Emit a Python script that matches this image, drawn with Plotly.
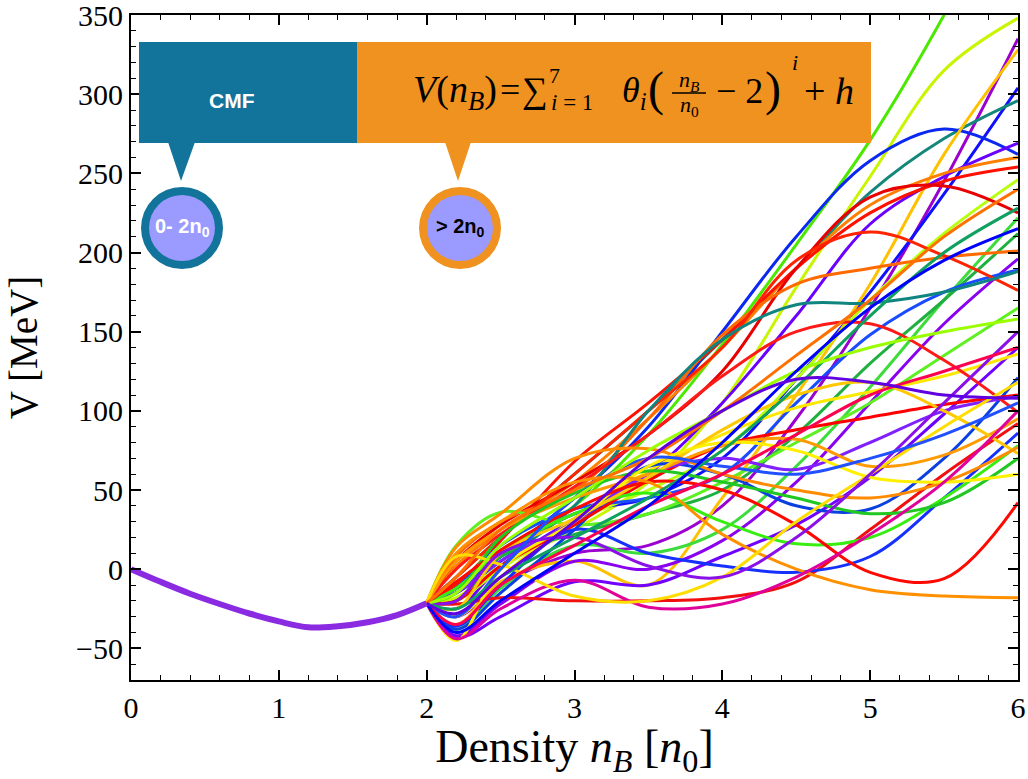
import plotly.graph_objects as go

# ---- CMF potential below 2 n0 ----
cmf_density = [0.0, 0.2, 0.4, 0.6, 0.8, 1.0, 1.2, 1.4, 1.6, 1.8, 2.0]
cmf_potential = [0.0, -8.0, -15.5, -22.0, -28.0, -33.0, -36.7, -36.0, -33.5, -29.0, -21.5]

# ---- sampled polynomial extensions above 2 n0 (V in MeV) ----
density_grid = [2.0, 2.2, 2.5, 3.0, 3.5, 4.0, 4.5, 5.0, 5.5, 6.0]

v01 = [-21.5, -10, 12, 40, 85, 142, 205, 271, 350, 440]
v02 = [-21.5, -18, 2, 25, 55, 105, 178, 248, 315, 348]
v03 = [-21.5, -30, -10, 10, 15, 40, 95, 165, 245, 335]
v04 = [-21.5, -12, 8, 35, 45, 70, 120, 175, 237, 304]
v05 = [-21.5, -5, 20, 60, 100, 145, 190, 238, 272, 296]
v06 = [-21.5, -15, 8, 45, 90, 150, 210, 258, 278, 262]
v07 = [-21.5, -35, -8, 5, -10, 45, 110, 180, 262, 328]
v08 = [-21.5, -25, 2, 32, 60, 105, 160, 218, 248, 269]
v09 = [-21.5, 2, 25, 55, 95, 140, 190, 230, 250, 260]
v10 = [-21.5, -10, 18, 68, 105, 145, 190, 225, 245, 254]
v11 = [-21.5, -20, 0, 30, 50, 75, 120, 170, 212, 246]
v12 = [-21.5, 5, 28, 55, 85, 125, 190, 235, 242, 225]
v13 = [-21.5, -38, -12, 15, 10, 25, 65, 115, 170, 222]
v14 = [-21.5, -20, 8, 22, 35, 50, 85, 130, 170, 212]
v15 = [-21.5, 8, 30, 50, 95, 148, 180, 190, 197, 201]
v16 = [-21.5, -42, -22, 5, 0, 18, 55, 105, 155, 196]
v17 = [-21.5, -12, 15, 38, 45, 60, 105, 148, 175, 189]
v18 = [-21.5, -5, 20, 60, 100, 140, 195, 213, 198, 176]
v19 = [-21.5, -15, 5, 40, 100, 145, 167, 168, 175, 188]
v20 = [-21.5, 15, 36, 28, 35, 55, 80, 105, 135, 165]
v21 = [-21.5, -43, -30, -8, -10, 8, 28, 58, 98, 140]
v22 = [-21.5, -30, -5, 32, 62, 85, 102, 112, 122, 136]
v23 = [-21.5, -38, -15, 25, 65, 60, 40, 38, 70, 121]
v24 = [-21.5, -20, 2, 28, 56, 78, 88, 96, 104, 110]
v25 = [-21.5, -15, 5, 30, 60, 70, 63, 80, 100, 109]
v26 = [-21.5, 0, 22, 52, 85, 122, 150, 155, 132, 99]
v27 = [-21.5, 5, 25, 45, 60, 78, 82, 65, 72, 95]
v28 = [-21.5, -22, -18, -20, -20, -18, -8, 25, 60, 92]
v29 = [-21.5, -36, -10, 25, 10, 2, -2, 8, 45, 86]
v30 = [-21.5, -12, 10, 35, 48, 30, 16, 20, 45, 78]
v31 = [-21.5, -25, 10, 32, 58, 88, 110, 118, 100, 73]
v32 = [-21.5, 14, 35, 70, 76, 60, 50, 45, 55, 77]
v33 = [-21.5, -15, 20, 48, 62, 55, 45, 35, 42, 70]
v34 = [-21.5, -45, 0, 30, 65, 80, 75, 58, 55, 60]
v35 = [-21.5, -8, 12, 38, 55, 50, 28, -2, -6, 42]
v36 = [-21.5, 10, 30, 55, 55, 22, 0, -13, -17, -18]
v37 = [-21.5, -44, -25, -7, -24, -22, -5, 22, 55, 100]
v38 = [-21.5, 8, 3, -17, -20, -5, 30, 60, 90, 118]
v39 = [-21.5, -20, 10, 20, 2, -5, 20, 60, 105, 150]
v40 = [-21.5, -30, 0, 45, 70, 65, 60, 70, 85, 105]
v41 = [-21.5, -35, -10, 15, 40, 60, 85, 110, 125, 140]
v42 = [-21.5, -25, -5, 20, 45, 75, 115, 160, 200, 228]
v43 = [-21.5, -15, 15, 45, 75, 100, 125, 140, 150, 158]
v44 = [-21.5, -5, 25, 50, 70, 100, 135, 170, 210, 240]
v45 = [-21.5, -40, -20, 10, 40, 80, 125, 165, 195, 215]
v46 = [-21.5, -28, -5, 30, 70, 100, 120, 118, 110, 108]

curves = [v01, v02, v03, v04, v05, v06, v07, v08, v09, v10, v11, v12, v13, v14, v15, v16,
          v17, v18, v19, v20, v21, v22, v23, v24, v25, v26, v27, v28, v29, v30, v31, v32,
          v33, v34, v35, v36, v37, v38, v39, v40, v41, v42, v43, v44, v45, v46]

curve_colors = ["#4be800", "#c8f500", "#9a00d0", "#1010ff", "#13887a", "#0b28f0", "#ffc000",
                "#6a00ff", "#ff8000", "#ff1000", "#b8ff10", "#e80000", "#3cdc3c", "#20b040",
                "#ff6a00", "#8a00f0", "#1a4cff", "#ff2400", "#10857f", "#5ef020", "#7000ff",
                "#ffe800", "#0a40e0", "#ff0000", "#8020ff", "#ff1a1a", "#ff9a00", "#f01010",
                "#1530ff", "#38ee10", "#ffc800", "#ff8c00", "#22c822", "#fff000", "#ff0800",
                "#ff9000", "#e0009a", "#ffdd00", "#8a10e8", "#2050ff", "#ff0050", "#10a060",
                "#9aff00", "#ff7000", "#0000ff", "#6000e0"]

fig = go.Figure()
for vals, col in zip(curves, curve_colors):
    fig.add_trace(go.Scatter(x=density_grid, y=vals, mode="lines",
                             line=dict(color=col, width=3, shape="spline", smoothing=1.0),
                             showlegend=False, hoverinfo="skip"))
fig.add_trace(go.Scatter(x=cmf_density, y=cmf_potential, mode="lines",
                         line=dict(color="#8a2be2", width=6, shape="spline"),
                         showlegend=False, hoverinfo="skip"))

# ---- plot-area pixel helpers for the overlay graphics ----
L, R, T, B = 131, 1018, 15, 680


def fx(p):
    return (p - L) / (R - L)


def fy(p):
    return (B - p) / (B - T)


TEAL = "#12739b"
ORANGE = "#f0921f"
LILAC = "#9a9aff"

shapes = [
    dict(type="rect", xref="paper", yref="paper", x0=fx(139), x1=fx(357), y0=fy(143), y1=fy(42),
         fillcolor=TEAL, line=dict(width=0), layer="above"),
    dict(type="rect", xref="paper", yref="paper", x0=fx(357), x1=fx(871), y0=fy(143), y1=fy(42),
         fillcolor=ORANGE, line=dict(width=0), layer="above"),
    dict(type="path", xref="paper", yref="paper",
         path=f"M {fx(168)},{fy(142)} L {fx(195)},{fy(142)} L {fx(181)},{fy(181)} Z",
         fillcolor=TEAL, line=dict(width=0), layer="above"),
    dict(type="path", xref="paper", yref="paper",
         path=f"M {fx(445)},{fy(142)} L {fx(471)},{fy(142)} L {fx(458)},{fy(181)} Z",
         fillcolor=ORANGE, line=dict(width=0), layer="above"),
]
for cx, ring in [(182, TEAL), (460, ORANGE)]:
    cy, r_out, r_in = 228, 41, 33
    shapes.append(dict(type="circle", xref="paper", yref="paper",
                       x0=fx(cx - r_out), x1=fx(cx + r_out), y0=fy(cy + r_out), y1=fy(cy - r_out),
                       fillcolor=ring, line=dict(width=0), layer="above"))
    shapes.append(dict(type="circle", xref="paper", yref="paper",
                       x0=fx(cx - r_in), x1=fx(cx + r_in), y0=fy(cy + r_in), y1=fy(cy - r_in),
                       fillcolor=LILAC, line=dict(width=0), layer="above"))
# fraction bar of n_B / n_0
shapes.append(dict(type="line", xref="paper", yref="paper", x0=fx(672), x1=fx(706), y0=fy(93), y1=fy(93),
                   line=dict(color="black", width=1.3), layer="above"))

SERIF = "Liberation Serif"
SANS = "Liberation Sans"


def note(text, x, y, size, family=SERIF, color="black", xanchor="center"):
    return dict(text=text, xref="paper", yref="paper", x=fx(x), y=fy(y), showarrow=False,
                xanchor=xanchor, yanchor="middle", font=dict(family=family, size=size, color=color))


annotations = [
    note("<b>CMF</b>", 232, 100, 21, SANS, "white"),
    note("<b>0- 2n<sub>0</sub></b>", 182, 228, 20, SANS, "white"),
    note("<b>&gt; 2n<sub>0</sub></b>", 460, 228, 20, SANS, "black"),
    # V(n_B) = sum_{i=1}^{7} theta_i (n_B/n_0 - 2)^i + h
    note("<i>V</i>(<i>n</i><sub><i>B</i></sub>)", 455, 92, 38),
    note("=", 510, 90, 36),
    note("\u2211", 535, 90, 36),
    note("7", 554, 76, 22),
    note("<i>i</i> = 1", 549, 102, 23, xanchor="left"),
    note("<i>\u03b8</i><sub><i>i</i></sub>", 634, 92, 36),
    note("(", 656, 89, 48),
    note("<i>n</i><sub><i>B</i></sub>", 689, 81, 22),
    note("<i>n</i><sub>0</sub>", 689, 106, 22),
    note("\u2212 2", 739, 91, 36),
    note(")", 773, 89, 48),
    note("<i>i</i>", 795, 62, 22),
    note("+ <i>h</i>", 829, 91, 38),
]

axis_common = dict(
    ticks="inside", ticklen=10, tickwidth=1.5, tickcolor="black",
    showline=True, linecolor="black", linewidth=2, mirror="allticks",
    showgrid=False, zeroline=False, automargin=False, ticklabeloverflow="allow",
    tickfont=dict(family=SERIF, size=30, color="black"),
)

fig.update_xaxes(range=[0, 6], tick0=0, dtick=1,
                 minor=dict(dtick=0.2, ticks="inside", ticklen=5, tickwidth=1.2, tickcolor="black",
                            showgrid=False),
                 title=dict(text="Density <i>n</i><sub><i>B</i></sub> [<i>n</i><sub>0</sub>]",
                            font=dict(family=SERIF, size=46, color="black"), standoff=9),
                 **axis_common)
fig.update_yaxes(range=[-70, 350], tick0=0, dtick=50,
                 minor=dict(dtick=10, ticks="inside", ticklen=5, tickwidth=1.2, tickcolor="black",
                            showgrid=False),
                 title=dict(text="V [MeV]", font=dict(family=SERIF, size=39, color="black"), standoff=26),
                 **axis_common)

fig.update_layout(width=1028, height=779, margin=dict(l=131, r=10, t=15, b=99),
                  plot_bgcolor="white", paper_bgcolor="white", showlegend=False,
                  shapes=shapes, annotations=annotations)

fig.write_html("out.html")
